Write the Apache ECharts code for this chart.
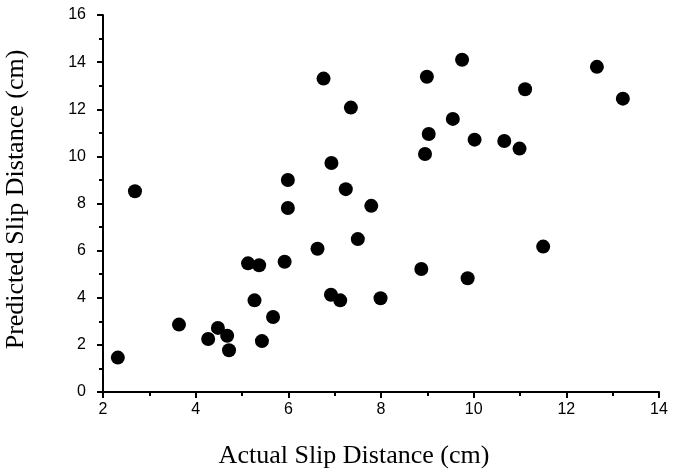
<!DOCTYPE html>
<html>
<head>
<meta charset="utf-8">
<script src="https://cdn.jsdelivr.net/npm/echarts@6/dist/echarts.min.js"></script>
<style>html,body{margin:0;padding:0;background:#fff}#c{width:674px;height:476px}</style>
</head>
<body>
<div id="c"></div>
<script>
var actual = [2.32,2.69,3.64,4.27,4.48,4.68,4.72,5.13,5.37,5.27,5.43,5.67,5.92,5.99,5.99,6.63,6.76,6.93,6.92,7.12,7.24,7.35,7.50,7.79,7.99,8.87,8.95,8.99,9.03,9.55,9.75,9.87,10.02,10.66,10.99,11.11,11.50,12.66,13.22];
var predicted = [1.46,8.52,2.86,2.25,2.72,2.39,1.77,5.46,5.38,3.89,2.16,3.18,5.53,9.00,7.81,6.08,13.30,9.72,4.13,3.89,8.61,12.07,6.49,7.90,3.98,5.22,10.10,13.38,10.95,11.59,14.10,4.83,10.71,10.65,10.33,12.85,6.17,13.80,12.45];
var xTitle = 'Actual Slip Distance (cm)';
var yTitle = 'Predicted Slip Distance (cm)';

var pts = actual.map(function(v,i){return [v, predicted[i]];});
var chart = echarts.init(document.getElementById('c'), null, {renderer:'canvas'});
function lbl(m){return {margin:m, color:'#000', fontFamily:'Liberation Sans, Arial, sans-serif', fontSize:16};}
var serif = 'Liberation Serif, Times New Roman, serif';
chart.setOption({
  animation:false,
  backgroundColor:'#fff',
  grid:{left:103, right:15, top:15, bottom:84, containLabel:false, outerBoundsMode:'none'},
  xAxis:{
    type:'value', min:2, max:14, interval:2,
    name:xTitle, nameLocation:'middle', nameGap:51,
    nameTextStyle:{color:'#000', fontFamily:serif, fontSize:26, padding:[0,54,0,0]},
    axisLine:{show:true, onZero:false, lineStyle:{color:'#000', width:2}},
    axisTick:{show:true, inside:false, length:6, lineStyle:{color:'#000', width:2}},
    minorTick:{show:true, splitNumber:2, length:4, lineStyle:{color:'#000', width:2}},
    splitLine:{show:false},
    axisLabel:lbl(10)
  },
  yAxis:{
    type:'value', min:0, max:16, interval:2,
    name:yTitle, nameLocation:'middle', nameGap:74,
    nameTextStyle:{color:'#000', fontFamily:serif, fontSize:26, padding:[0,0,0,8]},
    axisLine:{show:true, onZero:false, lineStyle:{color:'#000', width:2}},
    axisTick:{show:true, inside:false, length:6, lineStyle:{color:'#000', width:2}},
    minorTick:{show:true, splitNumber:2, length:4, lineStyle:{color:'#000', width:2}},
    splitLine:{show:false},
    axisLabel:lbl(17)
  },
  series:[{
    type:'scatter', data:pts, symbol:'circle', symbolSize:14,
    itemStyle:{color:'#000', opacity:1}
  }]
});
</script>
</body>
</html>
